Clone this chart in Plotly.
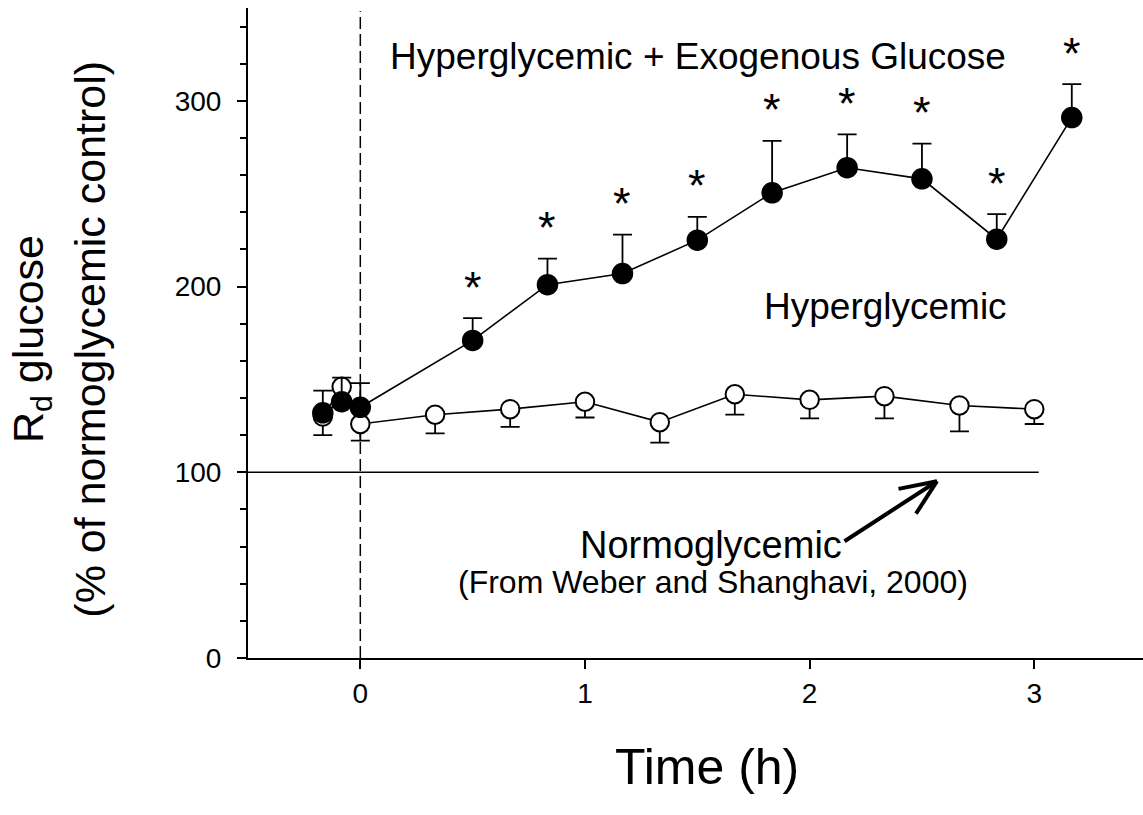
import plotly.graph_objects as go

# Time points (h) for each group
time_hyper = [-0.167, -0.083, 0.0, 0.333, 0.667, 1.0, 1.333, 1.667, 2.0, 2.333, 2.667, 3.0]
time_exo = [-0.167, -0.083, 0.0, 0.5, 0.833, 1.167, 1.5, 1.833, 2.167, 2.5, 2.833, 3.167]

# Rd glucose, % of normoglycemic control
rd_hyper = [130, 146, 126, 131, 134, 138, 127, 142, 139, 141, 136, 134]
sem_hyper = [10, 8, 9, 10, 9.5, 8.5, 11, 11, 10, 12, 14, 8]

rd_exo = [132, 138, 135, 171, 201, 207, 225, 250.5, 264, 258, 225.5, 291]
sem_exo = [12, 13, 13, 12, 14, 21, 12.5, 28, 18, 19, 13.5, 18]

# significance flags for the exogenous-glucose group
significant = [False, False, False, True, True, True, True, True, True, True, True, True]

normo_level = 100
normo_end = 3.02

x_ticks = [0, 1, 2, 3]
y_ticks = [0, 100, 200, 300]

FONT = "Liberation Sans, Arial, sans-serif"

fig = go.Figure()

# hyperglycemic group: open circles, downward SEM bars
fig.add_trace(go.Scatter(
    x=time_hyper, y=rd_hyper, mode="lines+markers",
    line=dict(color="black", width=1.6),
    marker=dict(symbol="circle", size=18.5, color="white",
                line=dict(color="black", width=2)),
    error_y=dict(type="data", symmetric=False, array=[0] * len(sem_hyper),
                 arrayminus=sem_hyper, color="black", thickness=1.8, width=9.5),
    showlegend=False, cliponaxis=False,
))

# hyperglycemic + exogenous glucose: filled circles, upward SEM bars
fig.add_trace(go.Scatter(
    x=time_exo, y=rd_exo, mode="lines+markers",
    line=dict(color="black", width=1.6),
    marker=dict(symbol="circle", size=20, color="black",
                line=dict(color="black", width=1.5)),
    error_y=dict(type="data", symmetric=False, array=sem_exo,
                 arrayminus=[0] * len(sem_exo), color="black", thickness=1.8, width=9.5),
    showlegend=False, cliponaxis=False,
))

# normoglycemic reference level
fig.add_shape(type="line", xref="x", yref="y", x0=-0.5, x1=normo_end,
              y0=normo_level, y1=normo_level, line=dict(color="black", width=1.6),
              layer="below")
# start of infusion
fig.add_shape(type="line", xref="x", yref="paper", x0=0, x1=0, y0=0, y1=0.995,
              line=dict(color="black", width=1.5, dash="12px,5px"), layer="below")

annotations = []
# asterisks above significant points
for t, m, e, s in zip(time_exo, rd_exo, sem_exo, significant):
    if s:
        annotations.append(dict(x=t, y=m + e, xref="x", yref="y", text="*",
                                showarrow=False, xanchor="center", yanchor="middle",
                                yshift=31,
                                font=dict(family=FONT, size=45, color="black")))

annotations += [
    dict(x=1.501, y=323.7, xref="x", yref="y", text="Hyperglycemic + Exogenous Glucose",
         showarrow=False, font=dict(family=FONT, size=37, color="black")),
    dict(x=2.338, y=189.5, xref="x", yref="y", text="Hyperglycemic",
         showarrow=False, font=dict(family=FONT, size=37, color="black")),
    dict(x=1.559, y=60.7, xref="x", yref="y", text="Normoglycemic",
         showarrow=False, font=dict(family=FONT, size=38, color="black")),
    dict(x=1.57, y=40.8, xref="x", yref="y", text="(From Weber and Shanghavi, 2000)",
         showarrow=False, font=dict(family=FONT, size=32, color="black")),
]

# arrow pointing to the normoglycemic line: shaft plus two head strokes
tip_x, tip_y = 2.567, 95.2
for ax_, ay_ in [(-94, 61), (-40, 8), (-22, 34)]:
    annotations.append(dict(x=tip_x, y=tip_y, xref="x", yref="y", text="",
                            showarrow=True, arrowhead=0, arrowwidth=4,
                            arrowcolor="black", ax=ax_, ay=ay_, standoff=0))

# axis titles
annotations += [
    dict(x=-0.2425, y=0.4907, xref="paper", yref="paper", xanchor="center",
         yanchor="middle", text="R<sub>d</sub> glucose", textangle=-90, showarrow=False,
         font=dict(family=FONT, size=43, color="black")),
    dict(x=-0.177, y=0.4907, xref="paper", yref="paper", xanchor="center",
         yanchor="middle", text="(% of normoglycemic control)", textangle=-90,
         showarrow=False, font=dict(family=FONT, size=43, color="black")),
    dict(x=0.513, y=-0.168, xref="paper", yref="paper", xanchor="center",
         yanchor="middle", text="Time (h)",
         showarrow=False, font=dict(family=FONT, size=50, color="black")),
]

fig.update_layout(
    width=1143, height=815,
    margin=dict(l=248, r=0, t=8, b=157),
    paper_bgcolor="white", plot_bgcolor="white",
    font=dict(family=FONT, color="black"),
    annotations=annotations,
    xaxis=dict(range=[-0.5, 3.484], tickvals=x_ticks, ticktext=[str(v) for v in x_ticks],
               showgrid=False, zeroline=False, showline=True, linecolor="black",
               linewidth=2, ticks="outside", ticklen=9, tickwidth=2, tickcolor="black",
               tickfont=dict(family=FONT, size=28, color="black"), ticklabelstandoff=0),
    yaxis=dict(range=[0, 350], tickvals=y_ticks, ticktext=[str(v) for v in y_ticks],
               showgrid=False, zeroline=False, showline=True, linecolor="black",
               linewidth=2, ticks="outside", ticklen=9, tickwidth=2, tickcolor="black",
               tickfont=dict(family=FONT, size=28, color="black"), ticklabelstandoff=10,
               minor=dict(dtick=20, tick0=0, ticks="outside", ticklen=6, tickwidth=1.5,
                          tickcolor="black", showgrid=False)),
)

fig.write_html("out.html")
